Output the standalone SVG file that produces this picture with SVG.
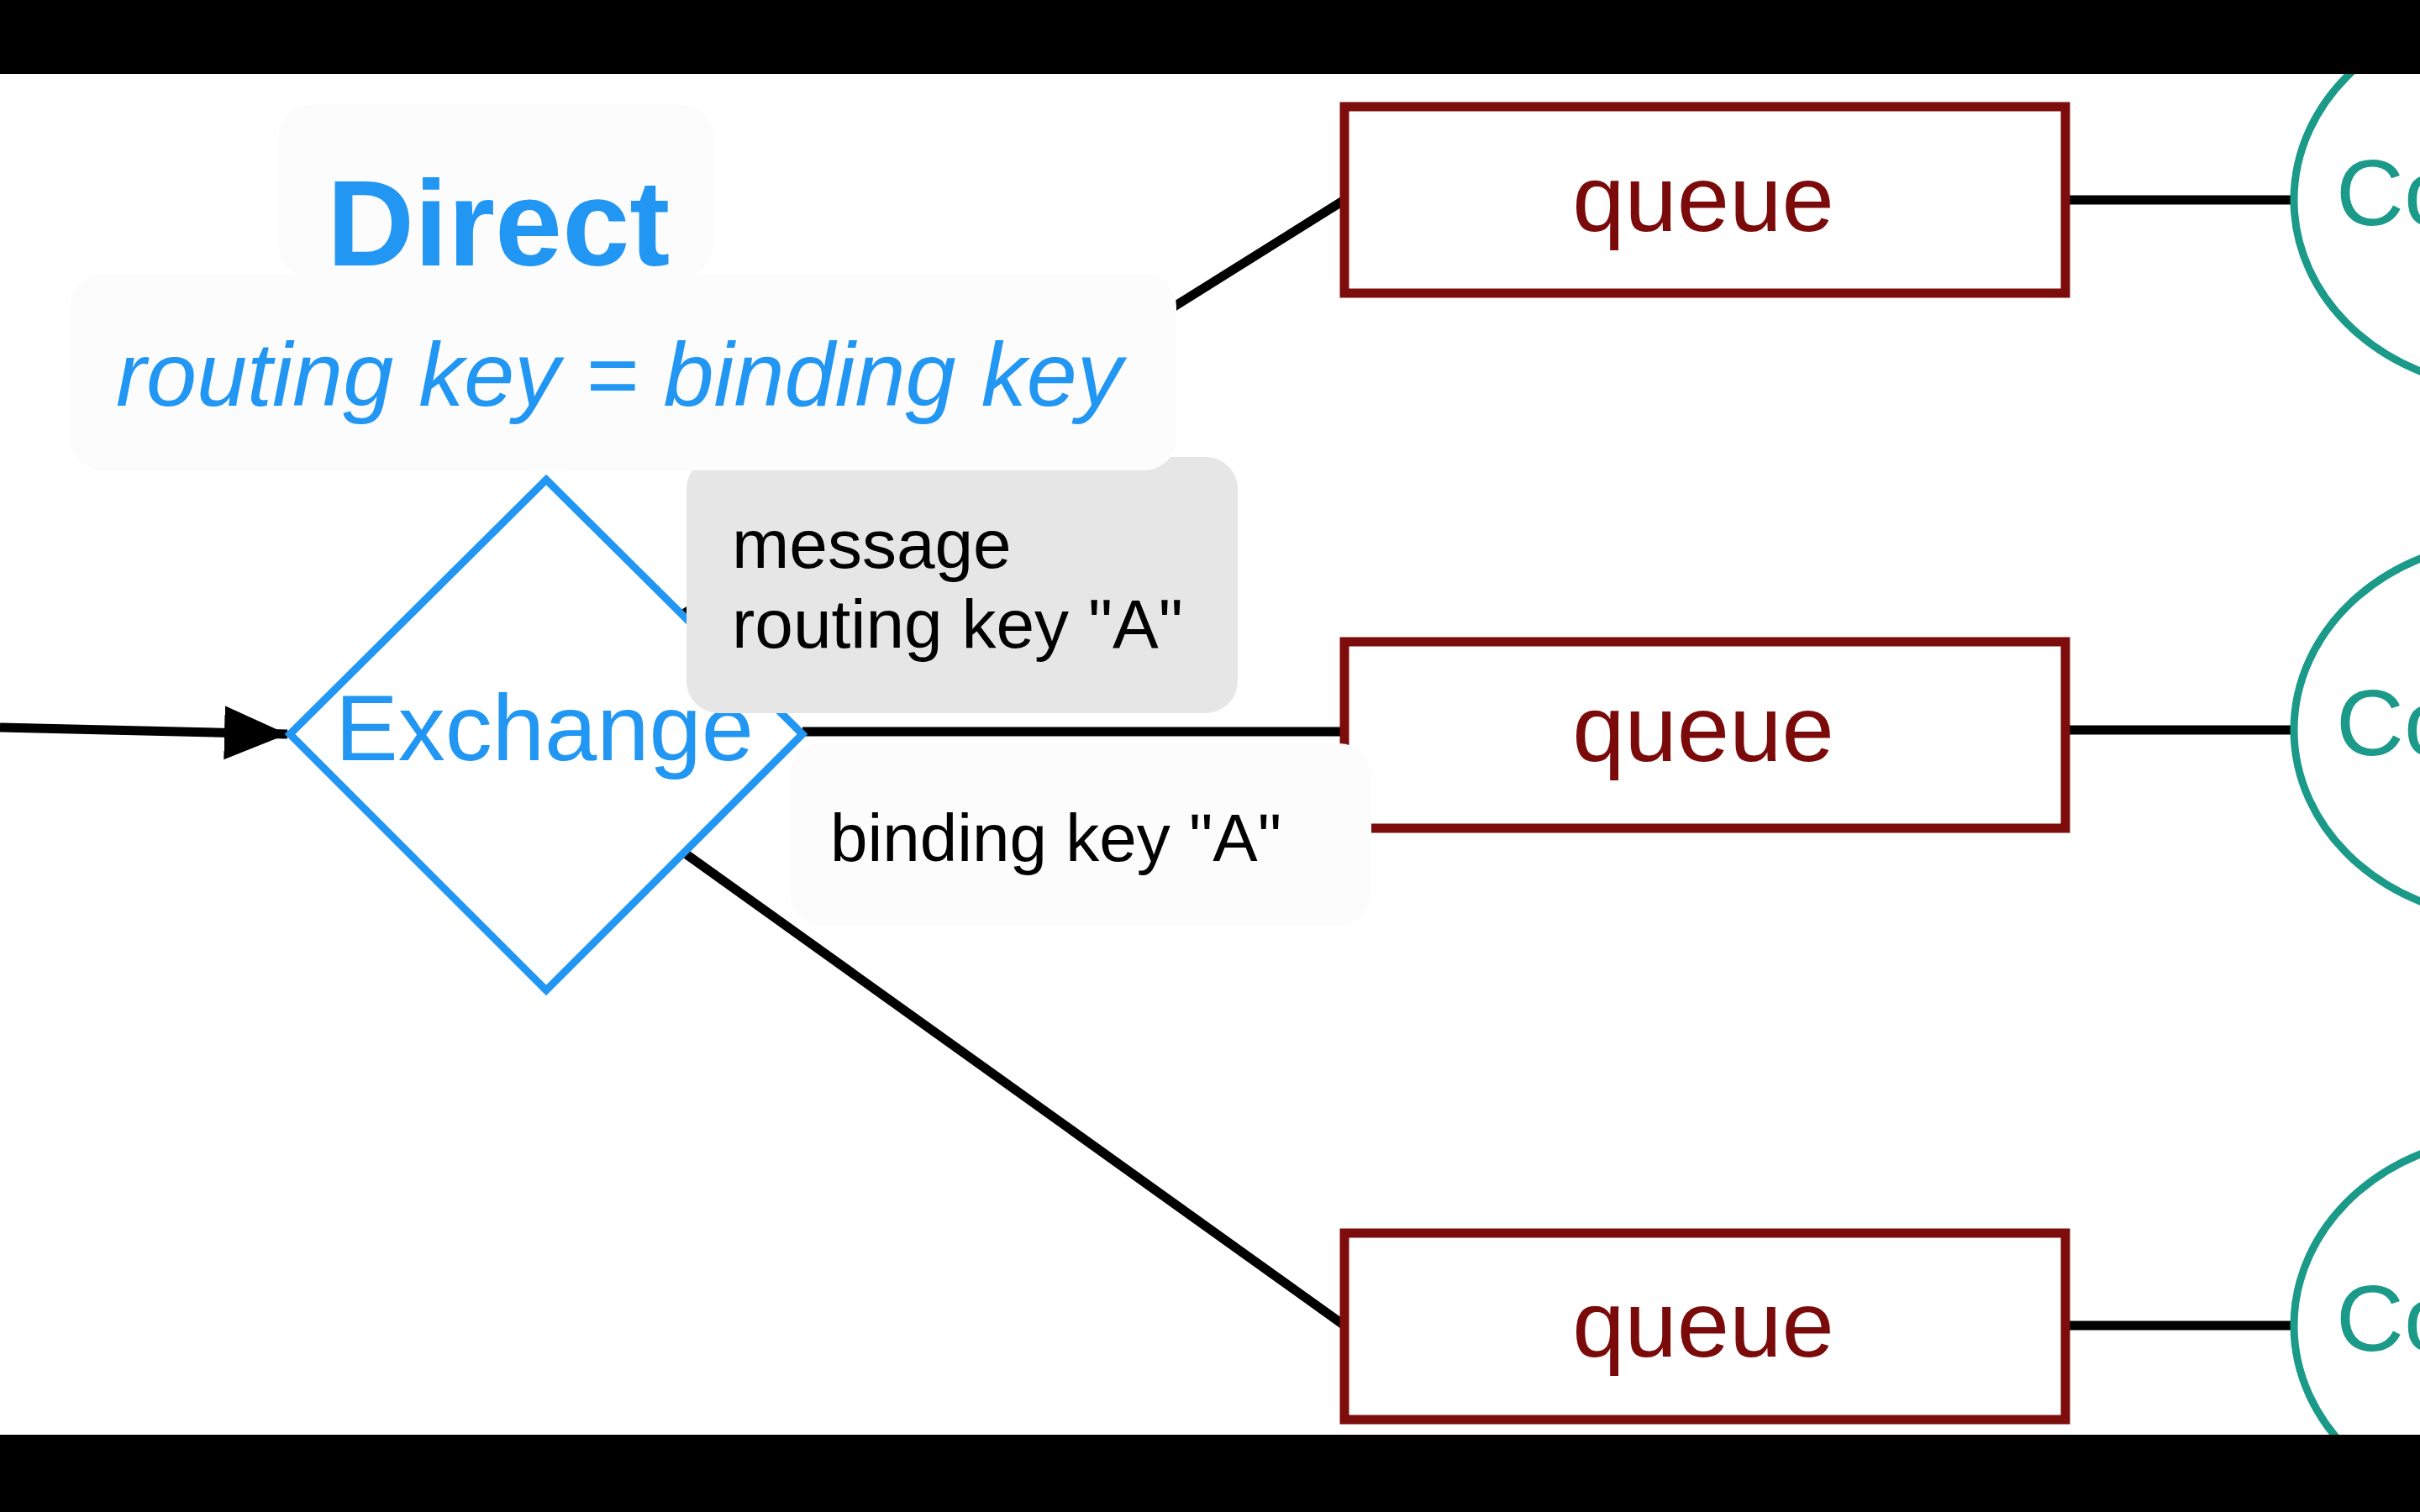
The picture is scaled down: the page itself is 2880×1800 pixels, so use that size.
<svg xmlns="http://www.w3.org/2000/svg" width="2880" height="1800" viewBox="0 0 2880 1800">
  <style>
    .conn { stroke: #000; stroke-width: 11; fill: none; }
    .queue rect { fill: #fff; stroke: #7d0c0c; stroke-width: 11; }
    .queue text { fill: #7b0a0a; font-family: "Liberation Sans", Arial, sans-serif; font-size: 112px; text-anchor: middle; }
    .consumer ellipse { fill: #fff; stroke: #1b9a89; stroke-width: 9; }
    .consumer text { fill: #1b9a89; font-family: "Liberation Sans", Arial, sans-serif; font-size: 112px; }
    .lbl { font-family: "Liberation Sans", Arial, sans-serif; fill: #000; }
    .blue { fill: #2196f3; font-family: "Liberation Sans", Arial, sans-serif; }
    .ghost { fill: #fcfcfc; }
  </style>
  <defs>
    <marker id="arrow" markerUnits="userSpaceOnUse" markerWidth="80" markerHeight="70" refX="75" refY="32" orient="auto">
      <path d="M0,0 L75,32 L0,64 Z" fill="#000"/>
    </marker>
  </defs>
  <rect x="0" y="0" width="2880" height="1800" fill="#fff"/>

  <g id="connectors">
    <line class="conn" x1="0" y1="866" x2="342" y2="874" marker-end="url(#arrow)"/>
    <line class="conn" x1="810" y1="733" x2="1600" y2="238"/>
    <line class="conn" x1="955" y1="871" x2="1600" y2="871"/>
    <line class="conn" x1="814" y1="1015" x2="1600" y2="1578"/>
    <line class="conn" x1="2458" y1="238" x2="2730" y2="238"/>
    <line class="conn" x1="2458" y1="869" x2="2730" y2="869"/>
    <line class="conn" x1="2458" y1="1578" x2="2730" y2="1578"/>
  </g>

  <g id="exchange">
    <polygon points="650,571 955,874 650,1179 345,874" fill="#fff" stroke="#2196f3" stroke-width="9"/>
    <text class="blue" x="648" y="905" font-size="112" text-anchor="middle">Exchange</text>
  </g>

  <g id="queue1" class="queue">
    <rect x="1600" y="127" width="858" height="222"/>
    <text x="2027" y="275">queue</text>
  </g>
  <g id="queue2" class="queue">
    <rect x="1600" y="764" width="858" height="222"/>
    <text x="2027" y="906">queue</text>
  </g>
  <g id="queue3" class="queue">
    <rect x="1600" y="1468" width="858" height="222"/>
    <text x="2027" y="1615">queue</text>
  </g>

  <g id="consumer1" class="consumer">
    <ellipse cx="2990" cy="238" rx="260" ry="225"/>
    <text x="2780" y="268">Co</text>
  </g>
  <g id="consumer2" class="consumer">
    <ellipse cx="2990" cy="869" rx="260" ry="225"/>
    <text x="2780" y="899">Co</text>
  </g>
  <g id="consumer3" class="consumer">
    <ellipse cx="2990" cy="1578" rx="260" ry="225"/>
    <text x="2780" y="1608">Co</text>
  </g>

  <g id="message-label">
    <rect x="817" y="544" width="656" height="305" rx="38" fill="#e6e6e6"/>
    <text class="lbl" x="871" y="676" font-size="82">message</text>
    <text class="lbl" x="871" y="771" font-size="82">routing key "A"</text>
  </g>

  <g id="rule-label">
    <rect class="ghost" x="83" y="327" width="1317" height="233" rx="38"/>
    <text class="blue" x="138" y="483" font-size="108" font-style="italic">routing key = binding key</text>
  </g>

  <g id="title">
    <rect class="ghost" x="331" y="125" width="518" height="206" rx="38"/>
    <text class="blue" x="389" y="316" font-size="144" font-weight="bold">Direct</text>
  </g>

  <g id="binding-label">
    <rect class="ghost" x="940" y="885" width="692" height="217" rx="38"/>
    <text class="lbl" x="988" y="1025" font-size="80">binding key "A"</text>
  </g>

  <rect x="0" y="0" width="2880" height="88" fill="#000"/>
  <rect x="0" y="1708" width="2880" height="92" fill="#000"/>
</svg>
